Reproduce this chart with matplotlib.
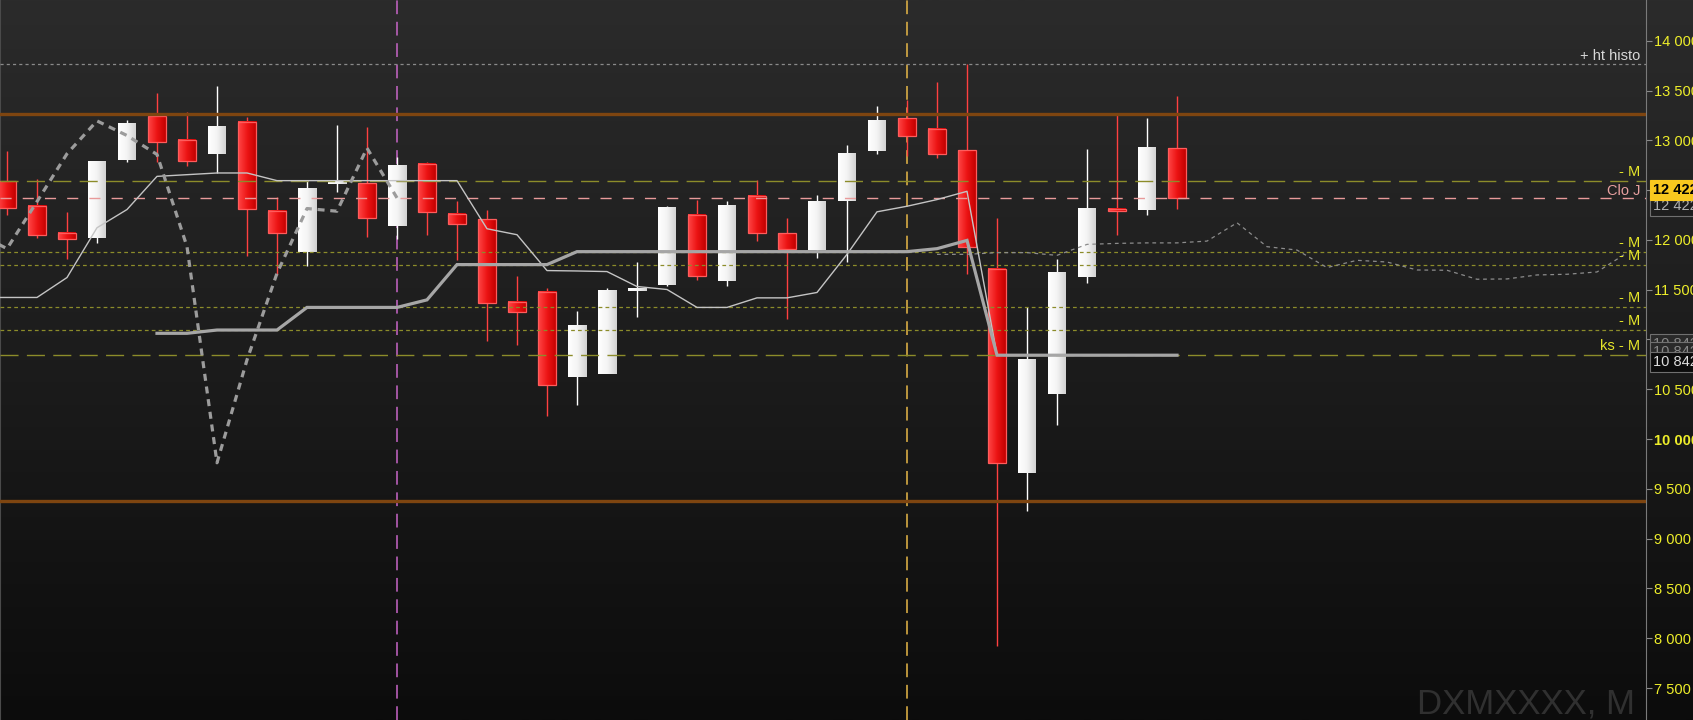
import numpy as np
import matplotlib.pyplot as plt
import matplotlib.ticker as mticker
from matplotlib.colors import LinearSegmentedColormap
from matplotlib.patches import Rectangle

plt.rcParams['font.family'] = ['Liberation Sans', 'DejaVu Sans']

# monthly candles, oldest first (index 0 = left edge)
opens = [12592, 12342, 12072, 12015, 12805, 13248, 13002, 12865, 13182, 12292,
         11882, 12572, 12572, 12138, 12765, 12262, 12205, 11375, 11475, 10628,
         10652, 11488, 11548, 12252, 11588, 12445, 12072, 11895, 12388, 12888,
         13222, 13112, 12905, 11712, 9658, 10448, 11628, 12315, 12298, 12922]
highs = [12895, 12615, 12278, 12785, 13205, 13478, 13282, 13545, 13232, 12428,
         12605, 13155, 13132, 12832, 12778, 12395, 12305, 11635, 11512, 11282,
         11515, 11782, 12345, 12405, 12388, 12605, 12215, 12455, 12955, 13345,
         13400, 13582, 13765, 12222, 11322, 11812, 12912, 13278, 13222, 13445]
lows = [12248, 12015, 11805, 11965, 12778, 12778, 12745, 12672, 11838, 11645,
        11738, 12478, 12028, 12005, 12048, 11798, 10988, 10945, 10232, 10338,
        10818, 11228, 11538, 11598, 11538, 11985, 11205, 11815, 11778, 12862,
        12838, 12818, 11655, 7922, 9278, 10138, 11572, 12048, 12248, 12312]
closes = [12322, 12048, 12008, 12785, 13168, 12988, 12788, 13145, 12308, 12068,
          12515, 12572, 12222, 12745, 12278, 12158, 11362, 11272, 10538, 11145,
          11495, 11515, 12325, 11638, 12345, 12068, 11912, 12385, 12865, 13195,
          13048, 12858, 11932, 9762, 10795, 11665, 12315, 12288, 12922, 12422]

# thin line (starts one bar before the first visible candle)
tenkan_start = -1
tenkan = [11422, 11422, 11422, 11622, 12122, 12305, 12638, 12655, 12672, 12672,
          12595, 12595, 12595, 12595, 12595, 12595, 12595, 12112, 12052, 11692,
          11688, 11682, 11532, 11502, 11322, 11322, 11418, 11418, 11472, 11855,
          12282, 12338, 12405, 12488, 10842, 10842, 10842, 10842, 10842, 10842,
          10842]
# thick line
kijun_start = 5
kijun = [11062, 11062, 11095, 11095, 11095, 11322, 11322, 11322, 11322, 11398,
         11752, 11752, 11752, 11752, 11882, 11882, 11882, 11882, 11882, 11882,
         11882, 11882, 11882, 11882, 11882, 11882, 11912, 11995, 10842, 10842,
         10842, 10842, 10842, 10842, 10842]
# thick dashed lagging line
lag_start = -1
lagging = [12068, 11912, 12385, 12865, 13195, 13048, 12858, 11932, 9762, 10795,
           11665, 12315, 12288, 12922, 12422]
# thin dashed projected line
proj_start = 31
projected = [11855, 11855, 11872, 11872, 11845, 11955, 11965, 11970, 11970, 11988,
             12172, 11932, 11898, 11722, 11795, 11778, 11698, 11695, 11605, 11608,
             11648, 11655, 11678, 11870]

ht_histo = 13765
clo_j = 12422
orange_levels = [13262, 9382]
m_levels = [12595, 11882, 11752, 11322, 11095, 10842]
m_labels = ['- M', '- M', '- M', '- M', '- M', 'ks - M']
m_long = [True, False, False, False, False, True]
v_marks = [13, 30]
v_colors = ['#c866c8', '#e8b848']
yticks = np.arange(7500, 14001, 500)

W, H, DPI = 1693, 720, 100
fig = plt.figure(figsize=(W / DPI, H / DPI), dpi=DPI)

# dark vertical gradient behind everything
bg = fig.add_axes([0, 0, 1, 1], zorder=-10)
bg_cmap = LinearSegmentedColormap.from_list('bg', ['#2b2b2b', '#1c1c1c', '#0c0c0c'])
bg.imshow(np.linspace(0, 1, 256).reshape(-1, 1), aspect='auto', cmap=bg_cmap,
          extent=[0, 1, 0, 1], origin='upper')
bg.axis('off')

ax = fig.add_axes([0, 0, 1646 / W, 1])
ax.patch.set_alpha(0)

red_cmap = LinearSegmentedColormap.from_list('r', ['#ff4646', '#ec1414', '#c20000'])
white_cmap = LinearSegmentedColormap.from_list('w', ['#ffffff', '#f4f4f4', '#d2d2d2'])
hgrad = np.linspace(0, 1, 64).reshape(1, -1)
bw = 0.6

for i, (o, h, l, c) in enumerate(zip(opens, highs, lows, closes)):
    up = c >= o
    ax.vlines(i, l, h, color='#ffffff' if up else '#ff4040', lw=1.0, zorder=4)
    lo, hi = min(o, c), max(o, c)
    if hi - lo < 25:
        mid = (hi + lo) / 2
        lo, hi = mid - 12, mid + 12
    ax.imshow(hgrad, extent=[i - bw / 2, i + bw / 2, lo, hi], aspect='auto',
              cmap=white_cmap if up else red_cmap, zorder=5)
    if not up:
        ax.add_patch(Rectangle((i - bw / 2, lo), bw, hi - lo, fill=False,
                               ec='#ff5c5c', lw=0.9, zorder=5.1))

# vertical markers
for xm, col in zip(v_marks, v_colors):
    ax.axvline(xm, color=col, lw=1.1, dashes=(9, 5), zorder=3)

# horizontal levels
ax.axhline(ht_histo, color='#8a8a8a', lw=0.9, dashes=(2.5, 2.5), zorder=6)
for lv in orange_levels:
    ax.axhline(lv, color='#7e4510', lw=2.4, zorder=6)
for lv, lg in zip(m_levels, m_long):
    if lg:
        ax.axhline(lv, color='#8c8c2a', lw=1.0, dashes=(13, 6), zorder=6)
    else:
        ax.axhline(lv, color='#8c8c2a', lw=0.9, dashes=(3, 2.5), zorder=6)
ax.axhline(clo_j, color='#e89a9a', lw=1.0, dashes=(8, 8), zorder=6)

# indicator lines
ax.plot(np.arange(len(projected)) + proj_start, projected, color='#8c8c8c',
        lw=0.9, dashes=(3, 3), zorder=6)
ax.plot(np.arange(len(tenkan)) + tenkan_start, tenkan, color='#c4c4c4', lw=1.0, zorder=7)
ax.plot(np.arange(len(kijun)) + kijun_start, kijun, color='#a6a6a6', lw=2.3,
        solid_joinstyle='miter', zorder=7)
ax.plot(np.arange(len(lagging)) + lag_start, lagging, color='#9c9c9c', lw=2.3,
        dashes=(2.2, 1.8), zorder=7)


def level_label(text, y, color, dy=4):
    ax.annotate(text, xy=(1, y), xycoords=('axes fraction', 'data'),
                xytext=(-6, dy), textcoords='offset pixels', ha='right',
                va='baseline', color=color, fontsize=10.5, zorder=8)


level_label('+ ht histo', ht_histo, '#d8d8d8')
level_label('Clo J', clo_j, '#e8a0a0', dy=3)
for lv, lab in zip(m_levels, m_labels):
    level_label(lab, lv, '#e6e62a', dy=5)


def value_box(text, y, dy, fc, tc, ec, bold=False):
    ax.annotate(text, xy=(1, y), xycoords=('axes fraction', 'data'),
                xytext=(7, dy), textcoords='offset pixels', ha='left',
                va='center', fontsize=10.5, color=tc,
                fontweight='bold' if bold else 'normal',
                bbox=dict(boxstyle='square,pad=0.2', fc=fc, ec=ec, lw=0.8),
                annotation_clip=False, zorder=9)


value_box('12 422', clo_j, -8, '#1e1e1e', '#b0b0b0', '#707070')
value_box('12 422', clo_j, 8, '#f9c81e', '#000000', '#f9c81e', bold=True)
value_box('10 842', m_levels[-1], 11, '#2a2a2a', '#888888', '#707070')
value_box('10 842', m_levels[-1], 3, '#2a2a2a', '#888888', '#707070')
value_box('10 842', m_levels[-1], -7, '#0c0c0c', '#dcdcdc', '#707070')

fig.text(1635 / W, 6 / H, 'DXMXXXX, M', ha='right', va='baseline',
         fontsize=25, color='#303030')

ax.set_xlim(-7 / 30, (1646 - 7) / 30)
ax.set_ylim(7179, 14409)
ax.set_xticks([])
ax.yaxis.tick_right()
ax.yaxis.set_major_locator(mticker.FixedLocator(yticks))
ax.yaxis.set_major_formatter(
    mticker.FuncFormatter(lambda v, p: f'{int(v):,}'.replace(',', ' ')))
ax.tick_params(axis='y', direction='out', length=4, width=0.8, color='#8a8a8a',
               labelcolor='#eeee2a', labelsize=10.5, pad=2)
for lab in ax.get_yticklabels():
    if lab.get_text() == '10 000':
        lab.set_fontweight('bold')
for side in ['top', 'bottom']:
    ax.spines[side].set_visible(False)
ax.spines['right'].set_color('#7a7a7a')
ax.spines['left'].set_color('#4a4a4a')

fig.savefig('out.png', dpi=DPI)
